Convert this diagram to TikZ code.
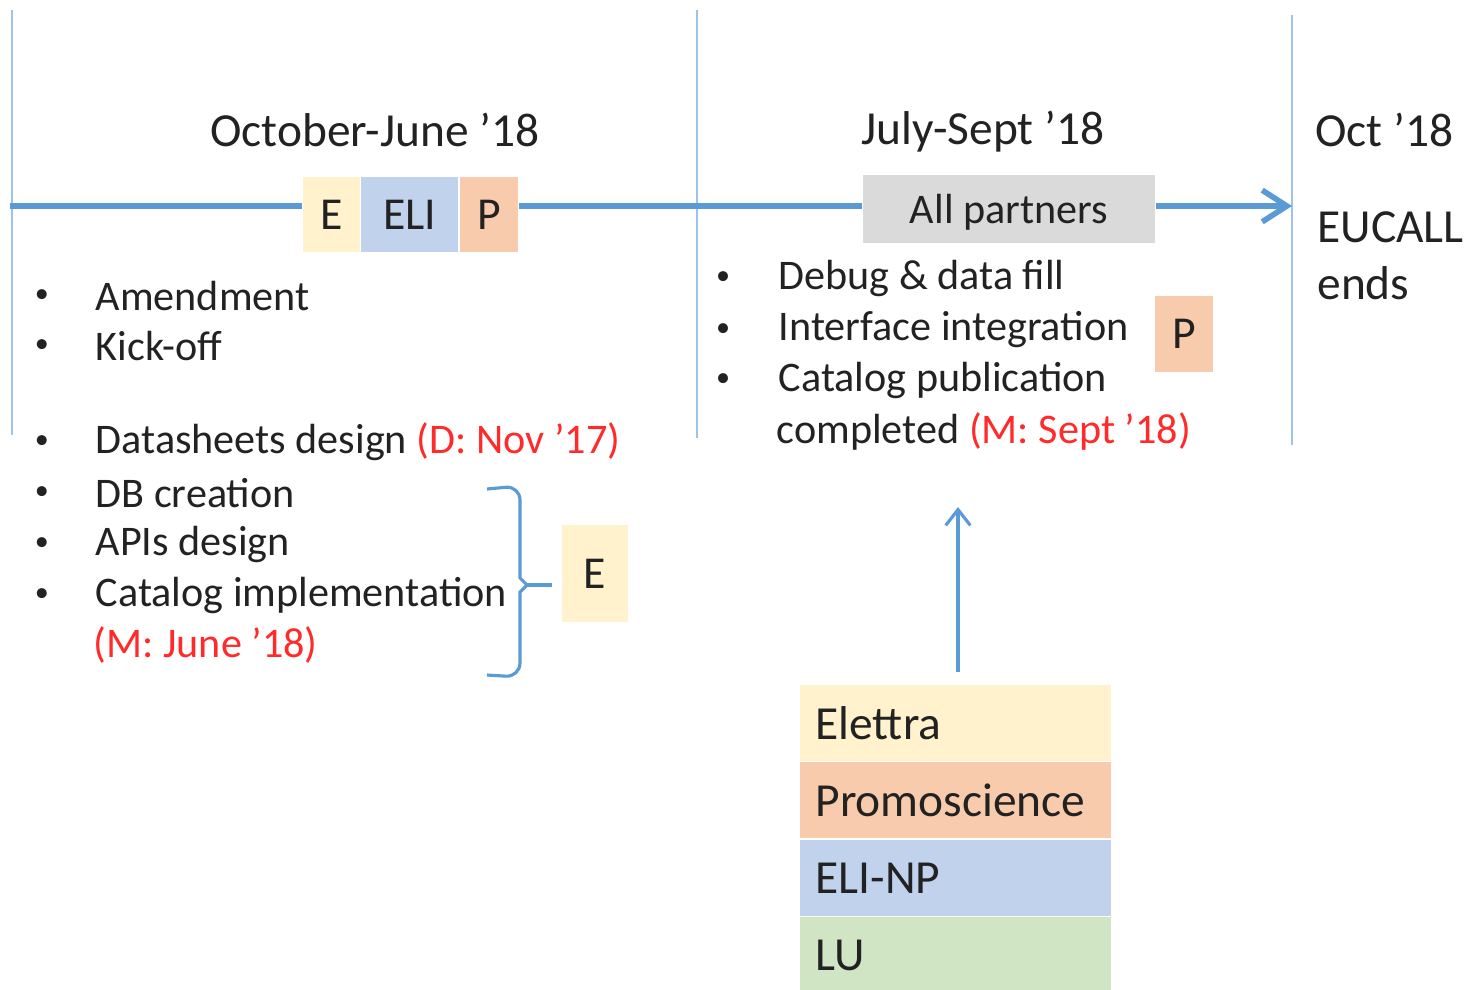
\documentclass[tikz,border=0pt]{standalone}
\usepackage{fontspec}
\setmainfont{Carlito}
\usepackage{tikz}
\usetikzlibrary{arrows.meta, positioning}

\definecolor{lineblue}{HTML}{5B9BD5}
\definecolor{rulerblue}{HTML}{9DC3E6}
\definecolor{elettra}{HTML}{FFF2CC}
\definecolor{promo}{HTML}{F8CBAD}
\definecolor{elinp}{HTML}{C0D2EC}
\definecolor{lund}{HTML}{D0E5C3}
\definecolor{allgray}{HTML}{DADADA}
\definecolor{milestone}{HTML}{FF2A2A}
\definecolor{ink}{HTML}{222222}

\tikzset{
  phase label/.style={text=ink, font=\fontsize{13.5}{16}\selectfont},
  item text/.style={text=ink, anchor=west, inner sep=0pt, font=\fontsize{12}{14}\selectfont},
  item dot/.style={text=ink, inner sep=0pt, font=\fontsize{8}{10}\selectfont},
  tag box/.style={text=ink, inner sep=0pt, text depth=0pt, font=\fontsize{13}{15}\selectfont},
  legend row/.style={text=ink, fill=#1, minimum width=31.1mm, minimum height=7.6mm,
    inner sep=0pt, text width=28mm, align=left, font=\fontsize{13.5}{16}\selectfont},
  ruler/.style={rulerblue, line width=0.7pt},
  timeline/.style={lineblue, line width=1.6pt},
}

\begin{document}
\begin{tikzpicture}[x=0.1mm, y=-0.1mm]
    \useasboundingbox (0,0) rectangle (1469,989);

    % Phase borders
    \draw[ruler] (12,10) -- (12,435);
    \draw[ruler] (697,10) -- (697,438);
    \draw[ruler] (1292,15) -- (1292,445);

    % Phase titles
    \node[phase label] (octjun) at (375,130) {October-June ’18};
    \node[phase label] (julsep) at (983,132) {July-Sept ’18};
    \node[phase label, anchor=west] (oct) at (1303,130) {Oct ’18};

    % Partner tags on the timeline
    \node[tag box, fill=elettra, minimum width=5.7mm, minimum height=7.5mm] (tagE) at (331.5,214.5) {E};
    \node[tag box, fill=elinp, minimum width=9.7mm, minimum height=7.5mm, right=0pt of tagE] (tagELI) {ELI};
    \node[tag box, fill=promo, minimum width=5.8mm, minimum height=7.5mm, right=0pt of tagELI] (tagP) {P};
    \node[tag box, fill=allgray, minimum width=29.2mm, minimum height=6.8mm,
      font=\fontsize{12}{14}\selectfont] (allp) at (1009,209) {All partners};

    % Timeline
    \coordinate (tlstart) at (10,206);
    \coordinate (tlend) at (1292,206);
    \draw[timeline] (tlstart) -- (tagE.west |- tlstart);
    \draw[timeline] (tagP.east |- tlstart) -- (allp.west |- tlstart);
    \draw[timeline, -{Straight Barb[length=7pt, width=9pt, line width=1.6pt]}] (allp.east |- tlstart) -- (tlend);

    % End of project
    \node[phase label, anchor=west] (eucall) at (1305,227) {EUCALL};
    \node[phase label, anchor=west] (ends) at (1305,283) {ends};

    % First phase tasks
    \foreach \y/\name/\txt in {296/amend/Amendment, 346/kickoff/Kick-off,
        442/sheets/{Datasheets design \textcolor{milestone}{(D: Nov ’17)}},
        493/dbcreate/DB creation, 544/apis/APIs design,
        595/catimpl/Catalog implementation} {
      \node[item dot] at (42,\y) {•};
      \node[item text] (\name) at (95,\y) {\txt};
    }
    \node[item text, text=milestone] (mjune) at (93,645) {(M: June ’18)};

    % Brace grouping Elettra tasks
    \coordinate (brtop) at (487,489);
    \coordinate (brbot) at (487,675);
    \coordinate (brtip) at (552,585);
    \draw[lineblue, line width=0.9pt, rounded corners=4pt]
      (brtop) -- (520,486) [sharp corners] -- (520,578) -- (527,585) -- (520,592)
      [rounded corners=4pt] -- (520,677) -- (brbot);
    \draw[lineblue, line width=0.9pt] (527,585) -- (brtip);
    \node[tag box, fill=elettra, minimum width=6.6mm, minimum height=9.7mm] (tagE2) at (595,573.5) {E};

    % Second phase tasks
    \foreach \y/\name/\txt in {278/debug/{Debug \& data fill},
        330/iface/Interface integration, 380/catpub/Catalog publication} {
      \node[item dot] at (723,\y) {•};
      \node[item text] (\name) at (778,\y) {\txt};
    }
    \node[item text] (completed) at (776,431) {completed \textcolor{milestone}{(M: Sept ’18)}};
    \node[tag box, fill=promo, minimum width=5.8mm, minimum height=7.6mm] (tagP2) at (1184,334) {P};

    % Partner legend
    \node[legend row=elettra] (elettra) at (955.5,723) {Elettra};
    \node[legend row=promo, below=0pt of elettra] (promosci) {Promoscience};
    \node[legend row=elinp, below=0pt of promosci] (elinp) {ELI-NP};
    \node[legend row=lund, below=0pt of elinp] (lu) {LU};

    % Legend feeds the second phase
    \coordinate (legtop) at (958,672);
    \coordinate (arrhead) at (958,507);
    \draw[lineblue, line width=0.9pt, -{Straight Barb[length=4.5pt, width=7pt, line width=0.9pt]}] (legtop) -- (arrhead);
\end{tikzpicture}
\end{document}
